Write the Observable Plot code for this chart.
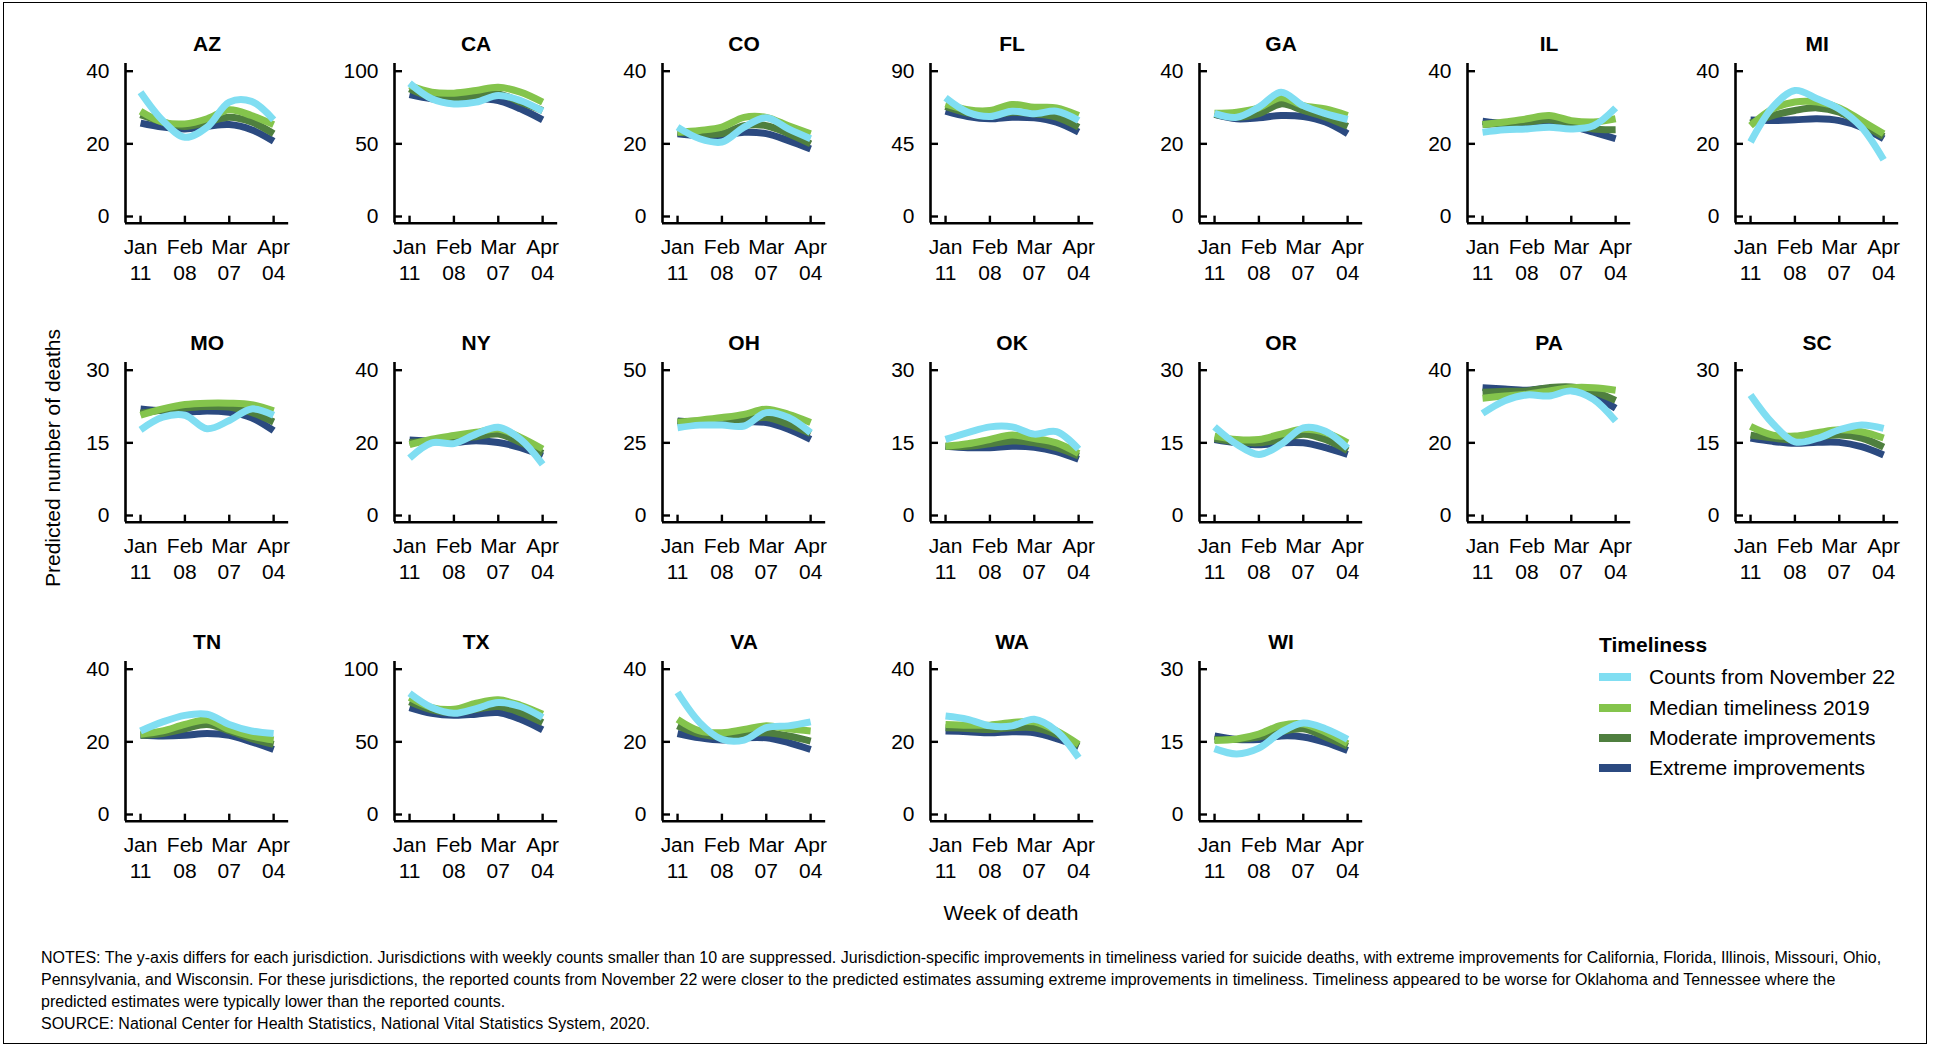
<!DOCTYPE html>
<html><head><meta charset="utf-8">
<script src="https://cdn.jsdelivr.net/npm/d3@7"></script>
<script src="https://cdn.jsdelivr.net/npm/@observablehq/plot@0.6"></script>
<style>
body{margin:0;background:#fff;font-family:"Liberation Sans",Arial,sans-serif;color:#000;}
#fig{position:relative;width:1935px;height:1055px;overflow:hidden;background:#fff;}
.panel{position:absolute;}
.abs{position:absolute;white-space:nowrap;}
#border{position:absolute;left:3px;top:2px;width:1924px;height:1042px;border:1.5px solid #000;box-sizing:border-box;}
.legtitle{font-weight:bold;font-size:21px;}
.legitem{font-size:21px;}
.sw{position:absolute;width:32px;height:8px;}
#notes{position:absolute;left:41px;top:947px;font-size:16px;line-height:21.9px;white-space:nowrap;}
</style></head><body><div id="fig"><div id="border"></div></div><script>
// ---------- data ----------
const weeks = ["2020-01-11","2020-01-25","2020-02-08","2020-02-22","2020-03-07","2020-03-21","2020-04-04"];
const tickWeeks = ["2020-01-11","2020-02-08","2020-03-07","2020-04-04"];
const tickLabels = ["Jan\n11","Feb\n08","Mar\n07","Apr\n04"];
const states = ["AZ","CA","CO","FL","GA","IL","MI","MO","NY","OH","OK","OR","PA","SC","TN","TX","VA","WA","WI"];
const yTop = [40,100,40,90,40,40,40,30,40,50,30,30,40,30,40,100,40,40,30];
const seriesNames = ["Counts from November 22","Median timeliness 2019","Moderate improvements","Extreme improvements"];
const seriesColors = ["#80def2","#84c44c","#4f7f3f","#2b4a80"];

const countsNov22 = [
  [34.2,26.4,21.8,24.6,31.5,31.7,26.6],
  [91.7,81,77.5,78.7,83.3,79.8,72.5],
  [24.6,21.4,20.5,24.6,27.2,24.1,21.4],
  [73.5,64.6,61.9,65.2,63.6,65.2,59.5],
  [28.4,27.3,30.1,34.2,30.5,28.3,26.7],
  [23.2,23.9,24.1,24.6,24.1,25,29.9],
  [20.5,30.1,34.7,32.4,29.6,24.6,15.6],
  [17.7,20.3,20.7,17.9,19.6,22,20.7],
  [15.8,20,19.8,22.4,24.3,21,14.1],
  [30.2,31.1,31.1,30.8,35.4,33.7,28.5],
  [15.7,17.1,18.3,18.3,16.8,17.3,13.7],
  [18.3,14.7,12.6,14.7,18.1,17.4,13.9],
  [28.1,31.6,33.2,32.9,34.3,32,26],
  [24.9,19,15.2,15.9,17.7,18.7,18],
  [23,25.5,27.3,27.6,24.8,23,22.3],
  [83.4,73.6,69.7,72.9,77,74.3,66.7],
  [33.6,25.3,20.7,20.5,23.9,24.4,25.5],
  [27.1,26.2,24.4,24.4,26.2,23,15.6],
  [13.6,12.5,13.7,17,18.9,17.7,15.5]
];
const medianTimeliness = [
  [29,26,25.5,26.9,29.4,27.8,25.3],
  [90.1,85.6,84.9,86.7,89,85.6,78.7],
  [23.2,23.7,24.6,27.3,27.3,25,22.8],
  [69.8,66.1,65.6,69.4,67.7,67.3,62.6],
  [28.4,28.7,29.9,32.7,30.5,29.6,27.8],
  [25.3,26,26.9,27.8,26.4,26,26.9],
  [25,29.6,31.5,31.5,29.9,26.4,22.8],
  [20.7,22,22.9,23.2,23.2,22.9,21.6],
  [19.5,21,22,22.9,23.8,21.5,18.3],
  [32,32.8,33.7,34.8,36.6,34.8,32],
  [14.3,14.8,15.7,16.6,15.9,15,12.8],
  [16.4,15.7,15.7,16.8,17.8,17.1,15],
  [32.3,32.9,33.4,34.3,35.2,35.2,34.5],
  [18.4,16.6,16.4,17.1,17.7,17.3,16],
  [22.1,23,24.8,26,23.4,21.6,20.5],
  [80.5,73.6,72.4,76.6,78.9,75.2,69],
  [26.2,23,22.5,23.4,24.4,23.6,23],
  [24.8,24.6,24.6,25.3,25.5,23,19.3],
  [15.3,15.6,16.6,18.4,18.7,17,14.6]
];
const moderateImprovements = [
  [28,26,24.8,26,27.3,26,22.8],
  [87.8,82.1,81.7,83.3,84.4,78.7,72.9],
  [23.2,22.8,22.8,25,25,22.8,20],
  [68.1,64,62.6,64.6,63.6,61.5,55.3],
  [28.1,27.3,28.3,31,29.2,27.3,24.8],
  [25.3,25.7,26,26.6,25.5,24.1,23.9],
  [25.7,27.8,29.2,29.9,28.7,25.5,22],
  [21.1,21.8,22.2,22.5,22.4,21.3,19.3],
  [20.1,20.6,21,21.7,22.4,20.1,17.1],
  [32.3,32.5,32.8,33.1,33.7,31.4,28.2],
  [14.3,14.3,14.8,15.4,15,14,12.3],
  [15.9,15.2,15,15.7,16.8,15.7,13.4],
  [33.9,34.2,34.3,35.2,35.4,34.1,31.7],
  [16.6,16,15.6,16.2,16.6,16,14.1],
  [21.8,22.3,23.6,24.8,23,20.9,19.3],
  [77.5,72,70.1,72.4,74.3,70.1,63.2],
  [24.4,22.1,21.4,22.1,22.5,21.6,20.2],
  [23.9,23.7,23.4,23.9,23.9,22.1,18.9],
  [15.5,15.5,16,17.1,17.7,16,14.1]
];
const extremeImprovements = [
  [25.7,24.6,24.1,24.8,25.3,23.9,20.7],
  [83.9,81,79.8,81,79.8,74.1,66.5],
  [22.8,22.3,22.3,23.2,22.8,20.9,18.6],
  [65.2,61.9,60.5,61.5,61.1,58.4,52.2],
  [28.1,26.9,27.2,27.8,27.5,26,22.8],
  [26.2,25.5,25.3,25.5,24.8,23.2,21.4],
  [26.6,26.4,26.6,26.9,26.4,24.6,21.4],
  [22,21.6,21.3,21.6,21.3,20.2,17.5],
  [20.8,20.4,20.1,20.6,20.1,18.7,16.4],
  [32.5,32,32,32.2,32,29.7,26.2],
  [14.3,14,14,14.3,14.1,13.2,11.6],
  [15.7,15,14.6,15,15,14,12.6],
  [35.2,34.8,34.5,35,34.8,32.9,29.5],
  [16,15.3,14.9,15.1,15.1,14.2,12.5],
  [21.8,21.6,21.8,22.3,21.8,20,17.9],
  [73.6,69.7,68.3,69,70.1,65.5,58.2],
  [22.3,21.1,20.5,21.1,21.1,19.8,17.9],
  [23,22.8,22.5,22.8,22.5,20.9,18.7],
  [16.2,15.5,15.5,16.2,16,14.9,13.2]
];

// ---------- layout ----------
const fig = document.getElementById("fig");
const parse = d3.utcParse("%Y-%m-%d");
const tickDates = tickWeeks.map(parse);
const tickLabelMap = new Map(tickDates.map((d, i) => [+d, tickLabels[i]]));
const xDomain = [new Date(Date.UTC(2020,0,1,12)), new Date(Date.UTC(2020,3,13,12))];
const FONT = "'Liberation Sans', Arial, sans-serif";
const ML = 70, MT = 50, MB = 75, MR = 12, PW = 163.2, PH = 159.7;
const colX = c => 125.4 + 268.3 * c;
const rowTop = r => 63 + 299 * r;
// drawing order: bottom to top
const drawOrder = [
  [seriesNames[3], extremeImprovements],
  [seriesNames[2], moderateImprovements],
  [seriesNames[1], medianTimeliness],
  [seriesNames[0], countsNov22]
];

states.forEach((st, i) => {
  const r = Math.floor(i / 7), c = i % 7;
  const M = yTop[i];
  const data = [];
  drawOrder.forEach(([name, arr]) => {
    arr[i].forEach((v, j) => data.push({series: name, date: parse(weeks[j]), value: v}));
  });
  const yDom = [-0.046 * M, 1.053 * M];
  const svg = Plot.plot({
    width: ML + PW + MR, height: MT + PH + MB,
    marginLeft: ML, marginRight: MR, marginTop: MT, marginBottom: MB,
    x: {type: "utc", domain: xDomain},
    y: {domain: yDom},
    color: {domain: seriesNames, range: seriesColors},
    style: {fontFamily: FONT, fontSize: "21px", color: "#000", background: "transparent", overflow: "visible"},
    marks: [
      Plot.line(data, {x: "date", y: "value", z: "series", stroke: "series", strokeWidth: 7,
        curve: "catmull-rom", strokeLinecap: "butt", strokeLinejoin: "round"}),
      Plot.ruleX([xDomain[0]], {stroke: "#000", strokeWidth: 2.6}),
      Plot.ruleY([yDom[0]], {stroke: "#000", strokeWidth: 2.6}),
      Plot.axisY({ticks: [0, M / 2, M], tickSize: -8, tickPadding: 24, tickFormat: d => String(d),
        strokeWidth: 2.4, fontSize: 21, label: null}),
      Plot.axisX({ticks: tickDates, tickSize: -7, tickPadding: 19, tickFormat: d => tickLabelMap.get(+d),
        lineHeight: 1.25, strokeWidth: 2.4, fontSize: 21, label: null}),
      Plot.text([st], {frameAnchor: "top", dy: -27, fontWeight: "bold", fontSize: 21, fill: "#000"})
    ]
  });
  svg.classList.add("panel");
  svg.style.left = (colX(c) - ML) + "px";
  svg.style.top = (rowTop(r) - MT) + "px";
  fig.appendChild(svg);
});

// axis titles
const yLab = document.createElement("div");
yLab.className = "abs";
yLab.style.cssText = "left:53px;top:458px;font-size:21px;transform:translate(-50%,-50%) rotate(-90deg);";
yLab.textContent = "Predicted number of deaths";
fig.appendChild(yLab);

const xLab = document.createElement("div");
xLab.className = "abs";
xLab.style.cssText = "left:1011px;top:913px;font-size:21px;transform:translate(-50%,-50%);";
xLab.textContent = "Week of death";
fig.appendChild(xLab);

// legend
const legTitle = document.createElement("div");
legTitle.className = "abs legtitle";
legTitle.style.cssText = "left:1599px;top:645px;transform:translateY(-50%);";
legTitle.textContent = "Timeliness";
fig.appendChild(legTitle);
seriesNames.forEach((name, k) => {
  const yc = 677.3 + 30.3 * k;
  const sw = document.createElement("div");
  sw.className = "sw";
  sw.style.left = "1599px";
  sw.style.top = (yc - 4) + "px";
  sw.style.background = seriesColors[k];
  fig.appendChild(sw);
  const t = document.createElement("div");
  t.className = "abs legitem";
  t.style.cssText = `left:1649px;top:${yc}px;transform:translateY(-50%);`;
  t.textContent = name;
  fig.appendChild(t);
});

// notes
const notesLines = [
  "NOTES: The y-axis differs for each jurisdiction. Jurisdictions with weekly counts smaller than 10 are suppressed. Jurisdiction-specific improvements in timeliness varied for suicide deaths, with extreme improvements for California, Florida, Illinois, Missouri, Ohio,",
  "Pennsylvania, and Wisconsin. For these jurisdictions, the reported counts from November 22 were closer to the predicted estimates assuming extreme improvements in timeliness. Timeliness appeared to be worse for Oklahoma and Tennessee where the",
  "predicted estimates were typically lower than the reported counts.",
  "SOURCE: National Center for Health Statistics, National Vital Statistics System, 2020."
];
const notes = document.createElement("div");
notes.id = "notes";
notesLines.forEach(l => { const d = document.createElement("div"); d.textContent = l; notes.appendChild(d); });
fig.appendChild(notes);
</script></body></html>
